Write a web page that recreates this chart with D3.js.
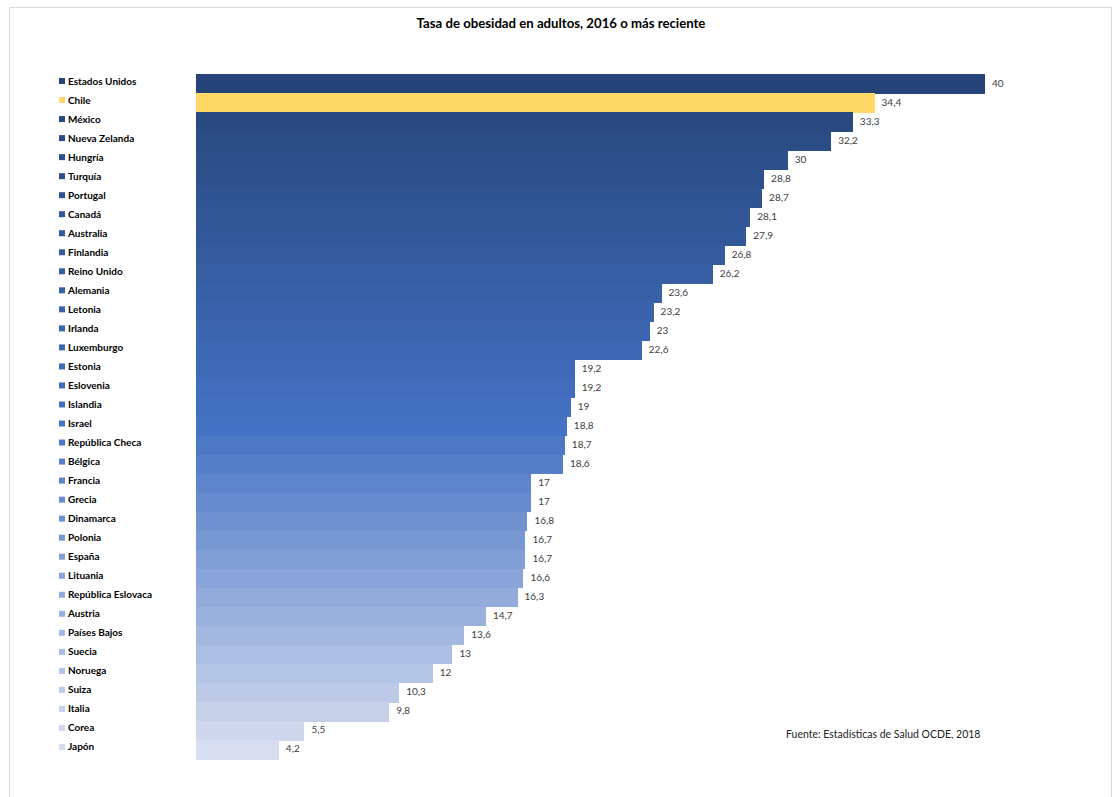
<!DOCTYPE html>
<html>
<head>
<meta charset="utf-8">
<script src="https://cdn.jsdelivr.net/npm/d3@7"></script>
<style>
  body { margin: 0; background: #fff; }
  svg { display: block; }
</style>
</head>
<body>
<svg id="chart" width="1113" height="797"></svg>
<script>
// Countries, top to bottom
const countries = [
    "Estados Unidos", "Chile", "México", "Nueva Zelanda", "Hungría", "Turquía",
    "Portugal", "Canadá", "Australia", "Finlandia", "Reino Unido", "Alemania",
    "Letonia", "Irlanda", "Luxemburgo", "Estonia", "Eslovenia", "Islandia",
    "Israel", "República Checa", "Bélgica", "Francia", "Grecia", "Dinamarca",
    "Polonia", "España", "Lituania", "República Eslovaca", "Austria",
    "Países Bajos", "Suecia", "Noruega", "Suiza", "Italia", "Corea", "Japón"
];
// obesity rate, %
const rates = [
    40, 34.4, 33.3, 32.2, 30, 28.8,
    28.7, 28.1, 27.9, 26.8, 26.2, 23.6,
    23.2, 23, 22.6, 19.2, 19.2, 19,
    18.8, 18.7, 18.6, 17, 17, 16.8,
    16.7, 16.7, 16.6, 16.3, 14.7,
    13.6, 13, 12, 10.3, 9.8, 5.5, 4.2
];
const highlight = "Chile";

const title = "Tasa de obesidad en adultos, 2016 o más reciente";
const source = "Fuente: Estadísticas de Salud OCDE, 2018";

const data = countries.map((c, i) => ({ name: c, value: rates[i], idx: i }));

const svg = d3.select("#chart");
const fontFam = "Lato, 'Open Sans', sans-serif";

// chart frame
svg.append("rect")
    .attr("x", 9.5).attr("y", 7.5)
    .attr("width", 1102).attr("height", 820)
    .attr("fill", "#fff")
    .attr("stroke", "#d9d9d9");

const x = d3.scaleLinear().domain([0, 40]).range([196, 985]);
const y = d3.scaleBand().domain(countries).range([74, 759]).paddingInner(0);

// dark shade -> accent -> light tint, like the office palette
const color = d3.scaleLinear()
    .domain([0, 18, countries.length - 1])
    .range(["#264478", "#4472C4", "#D7DDEE"])
    .interpolate(d3.interpolateRgb);

function barColor(d) {
    return d.name === highlight ? "#FFD966" : color(d.idx);
}

svg.append("text")
    .attr("x", 561).attr("y", 28)
    .attr("text-anchor", "middle")
    .attr("font-family", fontFam)
    .attr("font-weight", "bold")
    .attr("font-size", "13.2px")
    .attr("fill", "#000")
    .text(title);

svg.append("g").selectAll("rect")
    .data(data)
    .join("rect")
    .attr("x", x(0))
    .attr("y", d => y(d.name))
    .attr("width", d => x(d.value) - x(0))
    .attr("height", y.bandwidth() + 0.6)
    .attr("shape-rendering", "crispEdges")
    .attr("fill", barColor);

// value labels
svg.append("g").selectAll("text")
    .data(data)
    .join("text")
    .attr("x", d => x(d.value) + 7)
    .attr("y", d => y(d.name) + y.bandwidth() / 2 + 3)
    .attr("font-family", fontFam)
    .attr("font-size", "10px")
    .attr("fill", "#404040")
    .text(d => String(d.value).replace(".", ","));

// legend-like names on the left
const leg = svg.append("g").selectAll("g")
    .data(data)
    .join("g")
    .attr("transform", d => `translate(0,${y(d.name) + y.bandwidth() / 2 - 2.5})`);

leg.append("rect")
    .attr("x", 59).attr("y", -3)
    .attr("width", 6).attr("height", 6)
    .attr("fill", barColor);

leg.append("text")
    .attr("x", 68).attr("y", 3.5)
    .attr("font-family", fontFam)
    .attr("font-weight", "bold")
    .attr("font-size", "10px")
    .attr("fill", "#000")
    .text(d => d.name);

svg.append("text")
    .attr("x", 786).attr("y", 738)
    .attr("font-family", fontFam)
    .attr("font-size", "10.5px")
    .attr("fill", "#222")
    .text(source);
</script>
</body>
</html>
